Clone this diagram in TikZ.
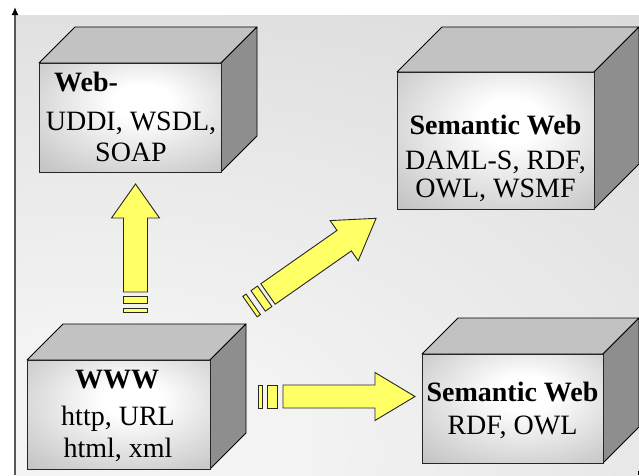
\documentclass[tikz,border=0pt]{standalone}
\usepackage{fontspec}
\setmainfont{Liberation Serif}
\usetikzlibrary{arrows.meta}
\definecolor{arrowyellow}{RGB}{255,255,102}
\definecolor{topgray}{RGB}{194,194,194}
\definecolor{sidegray}{RGB}{142,142,142}
\definecolor{fA}{RGB}{200,200,200}
\definecolor{fB}{RGB}{174,174,174}
\definecolor{fC}{RGB}{160,160,160}
\definecolor{bgA}{RGB}{243,243,243}
\definecolor{bgB}{RGB}{213,213,213}
\definecolor{bgC}{RGB}{200,200,200}
\definecolor{bgD}{RGB}{194,194,194}
\pgfdeclareradialshading{facesh}{\pgfpoint{4bp}{8bp}}{color(0bp)=(white); color(8bp)=(white); color(36bp)=(fA); color(50bp)=(fB); color(75bp)=(fC)}
\pgfdeclareradialshading{bgsh}{\pgfpoint{0bp}{0bp}}{color(0bp)=(bgA); color(6bp)=(bgA); color(32bp)=(bgB); color(44bp)=(bgC); color(56bp)=(bgD); color(100bp)=(bgD)}
\newcommand{\mycube}[5]{%
  \filldraw[topgray, draw=black, line width=0.8pt, line join=round] (#1,#2) -- (#1+#5,#2-#5) -- (#3+#5,#2-#5) -- (#3,#2) -- cycle;
  \filldraw[sidegray, draw=black, line width=0.8pt, line join=round] (#3,#2) -- (#3+#5,#2-#5) -- (#3+#5,#4-#5) -- (#3,#4) -- cycle;
  \shadedraw[shading=facesh, draw=black!85, line width=0.8pt] (#1,#2) rectangle (#3,#4);}
\newcommand{\blockarr}[8]{%
  \draw[arrsty] (0,-#3) -- (#1,-#3) -- (#1,-#4) -- (#1+#2,0) -- (#1,#4) -- (#1,#3) -- (0,#3) -- cycle;
  \draw[arrsty] (-#5,-#3) rectangle (-#6,#3);
  \draw[arrsty] (-#7,-#3) rectangle (-#8,#3);}
\tikzset{
  arrsty/.style={fill=arrowyellow, draw=black!85, line width=0.9pt, line join=miter},
  txt/.style={anchor=base, inner sep=0pt, font=\fontsize{28}{30}\selectfont},
  axisline/.style={draw=black!65, line width=1.5pt, -{Latex[length=8pt,width=7pt,black]}}
}
\begin{document}
\begin{tikzpicture}[x=1pt,y=-1pt]
\useasboundingbox (0,0) rectangle (639,475);
\fill[white] (0,0) rectangle (639,475);
% background
\begin{scope}
  \clip (16,15) rectangle (639,475);
  \shade[shading=bgsh] (-750,-50) rectangle (950,950);
\end{scope}
% axis
\coordinate (axb) at (15,475);
\coordinate (axt) at (15,7);
\draw[axisline] (axb) -- (axt);
\coordinate (tk1) at (638,471);
\coordinate (tk2) at (638,475);
\draw[black, line width=1pt] (tk1) -- (tk2);
% boxes
\mycube{39}{63}{221}{172}{36}
\mycube{397}{72}{594}{209}{45}
\mycube{27}{360}{210}{469}{36}
\mycube{422}{354}{603}{463}{36}
% texts
\node[txt, anchor=base west] (w1) at (54,91) {\textbf{Web-}};
\node[txt] (w2) at (131,130) {UDDI, WSDL,};
\node[txt] (w3) at (131,161) {SOAP};
\node[txt] (s1) at (495.5,134) {\textbf{Semantic Web}};
\node[txt] (s2) at (495.5,169) {DAML-S, RDF,};
\node[txt] (s3) at (495.5,197) {OWL, WSMF};
\node[txt] (x1) at (117,388) {\textbf{WWW}};
\node[txt] (x2) at (118,425) {http, URL};
\node[txt] (x3) at (118,457) {html, xml};
\node[txt] (r1) at (512.5,401) {\textbf{Semantic Web}};
\node[txt] (r2) at (512.5,434) {RDF, OWL};
% arrows
\begin{scope}[shift={(135.5,292)}, rotate=90]
  \blockarr{74}{34}{12}{24}{4}{11}{16}{20}
\end{scope}
\begin{scope}[shift={(268,294)}, rotate=35]
  \blockarr{93}{39}{12.5}{24.5}{4}{12}{18}{22}
\end{scope}
\begin{scope}[shift={(283,396.5)}]
  \blockarr{92}{40}{11.5}{24}{6}{16}{21}{25}
\end{scope}
\end{tikzpicture}
\end{document}
